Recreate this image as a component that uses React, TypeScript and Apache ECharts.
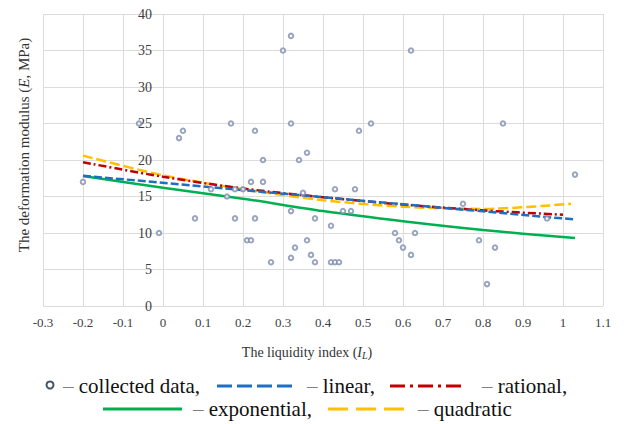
import React, { useEffect, useRef } from "react";
import * as echarts from "echarts";

// Collected data: liquidity index (I_L) and deformation modulus (E, MPa)
const collectedIL = [
  -0.2, -0.06, -0.01, 0.04, 0.05, 0.08, 0.12, 0.16, 0.17, 0.18, 0.18, 0.2, 0.21, 0.22, 0.22,
  0.23, 0.23, 0.25, 0.25, 0.27, 0.3, 0.32, 0.32, 0.32, 0.32, 0.33, 0.34, 0.35, 0.36, 0.36,
  0.37, 0.38, 0.38, 0.42, 0.42, 0.43, 0.44, 0.43, 0.45, 0.47, 0.48, 0.49, 0.52, 0.58, 0.59,
  0.6, 0.62, 0.62, 0.63, 0.75, 0.79, 0.81, 0.83, 0.85, 0.96, 1.03,
];
const collectedE = [
  17, 25, 10, 23, 24, 12, 16, 15, 25, 16, 12, 16, 9, 9, 17,
  24, 12, 20, 17, 6, 35, 37, 25, 13, 6.6, 8, 20, 15.5, 21, 9,
  7, 12, 6, 11, 6, 6, 6, 16, 13, 13, 16, 24, 25, 10, 9,
  8, 35, 7, 10, 14, 9, 3, 8, 25, 12, 18,
];

// Fitted curves
const linearIL = [-0.2, 0.4, 1.03];
const linearE = [17.85, 14.9, 11.85];

const rationalIL = [-0.2, 0, 0.2, 0.4, 0.6, 0.8, 1.0];
const rationalE = [19.7, 17.7, 16.1, 14.9, 13.9, 13.1, 12.5];

const exponentialIL = [-0.2, 0, 0.2, 0.4, 0.6, 0.8, 1.03];
const exponentialE = [17.8, 16.2, 14.7, 13.0, 11.6, 10.4, 9.3];

const quadraticIL = [-0.2, 0, 0.2, 0.4, 0.6, 0.8, 1.02];
const quadraticE = [20.6, 17.9, 16.0, 14.5, 13.6, 13.3, 14.0];

const SERIF = "Liberation Serif";
const BLUE = "#1f6fc0";
const RED = "#c00000";
const GREEN = "#00b050";
const YELLOW = "#ffc000";
const POINT = "#7f8fb0";
const GRID = "#dcdcdc";

const pairs = (xs: number[], ys: number[]) => xs.map((x, i) => [x, ys[i]]);

export default function App() {
  const ref = useRef<HTMLDivElement>(null);

  useEffect(() => {
    if (!ref.current) return;
    const chart = echarts.init(ref.current, undefined, { renderer: "svg" });

    const legendText = (x: number, y: number, word: string) => ({
      type: "text",
      x,
      y,
      style: {
        text: `{d|–} {w|${word}}`,
        fontFamily: SERIF,
        fontSize: 21,
        textAlign: "left",
        textVerticalAlign: "middle",
        rich: {
          d: { fontFamily: SERIF, fontSize: 21, fill: "#808080", color: "#808080" },
          w: { fontFamily: SERIF, fontSize: 21, fill: "#111", color: "#111" },
        },
      },
    });

    const legendLine = (x1: number, x2: number, y: number, color: string, dash: any) => ({
      type: "line",
      shape: { x1, y1: y, x2, y2: y },
      style: { stroke: color, lineWidth: 3, lineDash: dash },
    });

    chart.setOption({
      animation: false,
      backgroundColor: "#fff",
      textStyle: { fontFamily: SERIF },
      grid: { left: 43, right: 21, top: 14, bottom: 118, containLabel: false },
      xAxis: {
        type: "value",
        min: -0.3,
        max: 1.1,
        interval: 0.1,
        axisLine: { show: false, onZero: false },
        axisTick: { show: false },
        axisLabel: { fontFamily: SERIF, fontSize: 13, color: "#404040", margin: 10 },
        splitLine: { show: true, lineStyle: { color: GRID, width: 1 } },
      },
      yAxis: {
        type: "value",
        min: 0,
        max: 40,
        interval: 5,
        position: "left",
        offset: -120,
        axisLine: { show: false },
        axisTick: { show: false },
        axisLabel: { fontFamily: SERIF, fontSize: 14, color: "#404040", margin: 11 },
        splitLine: { show: true, lineStyle: { color: GRID, width: 1 } },
      },
      series: [
        {
          type: "line",
          name: "exponential",
          data: pairs(exponentialIL, exponentialE),
          smooth: 0.3,
          symbol: "none",
          lineStyle: { color: GREEN, width: 2.5, type: "solid" },
          z: 2,
        },
        {
          type: "line",
          name: "quadratic",
          data: pairs(quadraticIL, quadraticE),
          smooth: 0.3,
          symbol: "none",
          lineStyle: { color: YELLOW, width: 2.5, type: [10, 4] },
          z: 3,
        },
        {
          type: "line",
          name: "rational",
          data: pairs(rationalIL, rationalE),
          smooth: 0.3,
          symbol: "none",
          lineStyle: { color: RED, width: 2.5, type: [8, 3, 2, 3] },
          z: 4,
        },
        {
          type: "line",
          name: "linear",
          data: pairs(linearIL, linearE),
          smooth: false,
          symbol: "none",
          lineStyle: { color: BLUE, width: 2.5, type: [8, 3] },
          z: 5,
        },
        {
          type: "scatter",
          name: "collected data",
          data: pairs(collectedIL, collectedE),
          symbol: "emptyCircle",
          symbolSize: 4.5,
          itemStyle: { color: POINT, borderColor: POINT, borderWidth: 1 },
          z: 6,
        },
      ],
      graphic: [
        {
          type: "text",
          x: 24,
          y: 145,
          rotation: Math.PI / 2,
          style: {
            text: "{n|The deformation modulus (}{i|E}{n|, MPa)}",
            fontFamily: SERIF,
            fontSize: 15,
            textAlign: "center",
            textVerticalAlign: "middle",
            rich: {
              n: { fontFamily: SERIF, fontSize: 15, fill: "#333", color: "#333" },
              i: { fontFamily: SERIF, fontSize: 15, fontStyle: "italic", fill: "#333", color: "#333" },
            },
          },
        },
        {
          type: "text",
          x: 307,
          y: 352,
          style: {
            text: "{n|The liquidity index (}{i|I}{s|L}{n|)}",
            fontFamily: SERIF,
            fontSize: 14,
            textAlign: "center",
            textVerticalAlign: "middle",
            rich: {
              n: { fontFamily: SERIF, fontSize: 14, fill: "#333", color: "#333" },
              i: { fontFamily: SERIF, fontSize: 14, fontStyle: "italic", fill: "#333", color: "#333" },
              s: {
                fontFamily: SERIF,
                fontSize: 10,
                fontStyle: "italic",
                fill: "#333",
                color: "#333",
                padding: [7, 0, 0, 0],
              },
            },
          },
        },
        {
          type: "circle",
          shape: { cx: 50, cy: 385, r: 3.5 },
          style: { fill: "#fff", stroke: "#44546a", lineWidth: 2 },
        },
        legendText(63, 386, "collected data,"),
        legendLine(217, 295, 386, BLUE, [15, 5]),
        legendText(307, 386, "linear,"),
        legendLine(390, 463, 386, RED, [15, 5, 3, 5]),
        legendText(482, 386, "rational,"),
        legendLine(103, 182, 409, GREEN, null),
        legendText(193, 409, "exponential,"),
        legendLine(328, 406, 409, YELLOW, [20, 8]),
        legendText(418, 409, "quadratic"),
      ],
    });

    return () => chart.dispose();
  }, []);

  return <div ref={ref} style={{ width: 624, height: 424, position: "absolute", left: 0, top: 0 }} />;
}
